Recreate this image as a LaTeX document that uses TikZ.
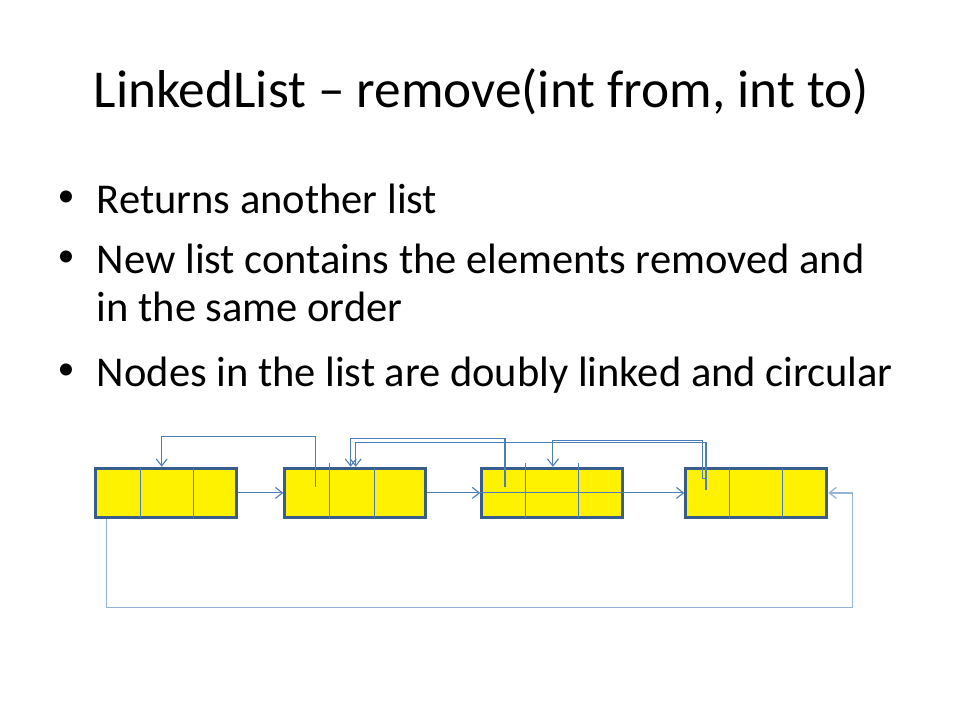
\documentclass[tikz,border=0pt]{standalone}
\usepackage{fontspec}
\setmainfont{Carlito}
\usetikzlibrary{calc}
\usetikzlibrary{arrows.meta}
\definecolor{boxedge}{RGB}{56,93,138}
\definecolor{linkblue}{RGB}{74,126,187}
\definecolor{loopblue}{RGB}{149,179,215}

\begin{document}
\begin{tikzpicture}[x=1pt, y=-1pt,
    cell/.style={draw=boxedge, line width=3pt, fill=yellow, minimum width=141pt, minimum height=49.3pt, inner sep=0pt},
    wire/.style={draw=linkblue, line width=1.1pt},
    link/.style={wire, -{Straight Barb[length=7pt, width=11pt]}},
    loopback/.style={draw=loopblue, line width=1.3pt, -{Straight Barb[length=7pt, width=11pt]}},
    bodytext/.style={anchor=base west, inner sep=0pt, font=\fontsize{42.5}{50}\selectfont},
    dot/.style={anchor=center, inner sep=0pt, font=\fontsize{34}{40}\selectfont}]
    \useasboundingbox (0,0) rectangle (960,720);

    % title and bullets
    \node[anchor=base, inner sep=0pt, font=\fontsize{53.3}{64}\selectfont] (title) at (481.3,107.7) {LinkedList – remove(int from, int to)};
    \node[dot] (dot1) at (66,198.5) {•};
    \node[bodytext] (item1) at (96.7,213.3) {Returns another list};
    \node[dot] (dot2) at (66,258.5) {•};
    \node[bodytext] (item2) at (96.7,273.3) {New list contains the elements removed and};
    \node[bodytext] (item2b) at (96.7,321.7) {in the same order};
    \node[dot] (dot3) at (66,371.9) {•};
    \node[bodytext] (item3) at (96.7,386.7) {Nodes in the list are doubly linked and circular};

    % the four list nodes
    \node[cell] (b1) at (166,492.9) {};
    \node[cell] (b2) at (355.3,492.9) {};
    \node[cell] (b3) at (552.2,492.9) {};
    \node[cell] (b4) at (756.3,492.9) {};
    \foreach \b/\f/\tf/\g/\tg in {b1/46.3/-1.5/99.7/-1.5, b2/46/4/91.4/-1.5, b3/45.7/4/98.3/4, b4/45/-1.5/98.4/-1.5} {
        \draw[wire] ($(\b.north west)+(\f,-\tf)$) -- ($(\b.south west)+(\f,-1.5)$);
        \draw[wire] ($(\b.north west)+(\g,-\tg)$) -- ($(\b.south west)+(\g,-1.5)$);
    }

    % next links
    \draw[link] (b1.east) -- (b2.west);
    \draw[link] (b2.east) -- (b3.west);
    \draw[wire] (b3.west) -- (b3.east);
    \draw[link] (b3.east) -- (b4.west);

    % previous links
    \coordinate (p2) at (315.7,486.7);
    \coordinate (p3) at (505,486.7);
    \coordinate (p4) at (706,490);
    \coordinate (q4) at (706,478.3);
    \draw[link] (p2) -- ++(0,-50) -| ($(b1.north west)+(67.7,0)$);
    \draw[link] (p3) -- ++(0,-48.4) -| ($(b2.north west)+(67.4,0)$);
    \draw[link] (p4) -- ++(0,-47.5) -| ($(b2.north west)+(72.4,0)$);
    \draw[link] (q4) -- ++(-3.3,0) -- ++(0,-37.6) -| ($(b3.north west)+(72.7,0)$);

    % circular link
    \coordinate (loopL) at (106.7,607.7);
    \coordinate (loopR) at (852.7,607.7);
    \draw[loopback] (b1.south -| loopL) -- (loopL) -- (loopR) |- (b4.east);
\end{tikzpicture}
\end{document}
